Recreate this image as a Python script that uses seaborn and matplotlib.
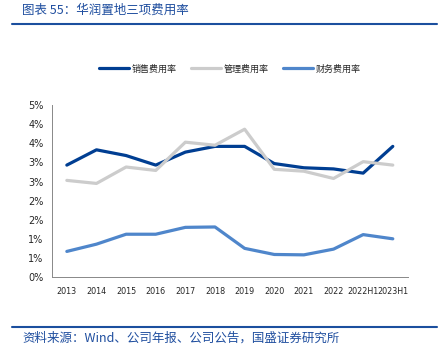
import numpy as np
import pandas as pd
import matplotlib
matplotlib.use('Agg')
import matplotlib.pyplot as plt
import seaborn as sns
from matplotlib.lines import Line2D
from matplotlib.ticker import FuncFormatter, MultipleLocator

# 数据 (%)
years = ['2013', '2014', '2015', '2016', '2017', '2018', '2019', '2020',
         '2021', '2022', '2022H1', '2023H1']
sales_rate = [2.93, 3.33, 3.18, 2.93, 3.27, 3.42, 3.42, 2.97, 2.86, 2.83, 2.72, 3.42]
admin_rate = [2.53, 2.45, 2.88, 2.79, 3.53, 3.45, 3.87, 2.82, 2.77, 2.58, 3.02, 2.93]
finance_rate = [0.67, 0.86, 1.12, 1.12, 1.30, 1.31, 0.75, 0.59, 0.58, 0.73, 1.11, 1.00]
series_names = ['销售费用率', '管理费用率', '财务费用率']
colors = ['#003E92', '#CCCCCC', '#4F86CB']

df = pd.DataFrame({'年份': years * 3,
                   '费用率': sales_rate + admin_rate + finance_rate,
                   '类别': np.repeat(series_names, len(years))})

sns.set_style('white')
plt.rcParams['font.family'] = ['Noto Sans CJK SC', 'DejaVu Sans']

fig = plt.figure(figsize=(4.39, 3.54), dpi=100)
ax = fig.add_axes([0.1185, 0.2175, 0.81, 0.4855])

sns.lineplot(data=df, x='年份', y='费用率', hue='类别', hue_order=series_names,
             palette=colors, linewidth=2.3, sort=False, ax=ax)

ax.set_xlim(-0.5, len(years) - 0.5)
ax.set_ylim(0, 4.5)
ax.yaxis.set_major_locator(MultipleLocator(0.5))
ax.yaxis.set_major_formatter(FuncFormatter(lambda v, p: f'{int(np.floor(v + 0.5 + 1e-9))}%'))
ax.set_xlabel('')
ax.set_ylabel('')

# x轴刻度线放在类别之间
ax.set_xticks(range(len(years)))
ax.set_xticklabels(years, fontsize=5.8, fontfamily=['DejaVu Sans'])
ax.set_xticks(np.arange(-0.5, len(years)), minor=True)
ax.tick_params(axis='x', which='major', length=0, pad=7)
ax.tick_params(axis='x', which='minor', length=3, width=0.6, direction='out', color='#888888')
ax.tick_params(axis='y', length=3, width=0.6, direction='out', color='#888888',
               labelsize=7, pad=3)
for lab in ax.get_yticklabels():
    lab.set_fontfamily(['DejaVu Sans'])

for s in ['top', 'right']:
    ax.spines[s].set_visible(False)
for s in ['left', 'bottom']:
    ax.spines[s].set_color('#888888')
    ax.spines[s].set_linewidth(0.7)

ax.legend(loc='center', bbox_to_anchor=(0.5, 1.21), ncol=3, frameon=False,
          fontsize=6.5, handlelength=3.3, handletextpad=0.3, columnspacing=1.6,
          title=None)

# 标题与来源
title_color = '#1F4E9F'
fig.text(0.05, 0.972, '图表 55：华润置地三项费用率', fontsize=9, color=title_color,
         style='italic', ha='left', va='center')
fig.add_artist(Line2D([0.027, 0.995], [0.932, 0.932], color='#1B4F9E', linewidth=1.5))
fig.add_artist(Line2D([0.027, 0.995], [0.075, 0.075], color='#1B4F9E', linewidth=1.5))
fig.text(0.05, 0.046, '资料来源：Wind、公司年报、公司公告，国盛证券研究所', fontsize=9,
         color=title_color, style='italic', ha='left', va='center')

fig.savefig('out.png', dpi=100)
